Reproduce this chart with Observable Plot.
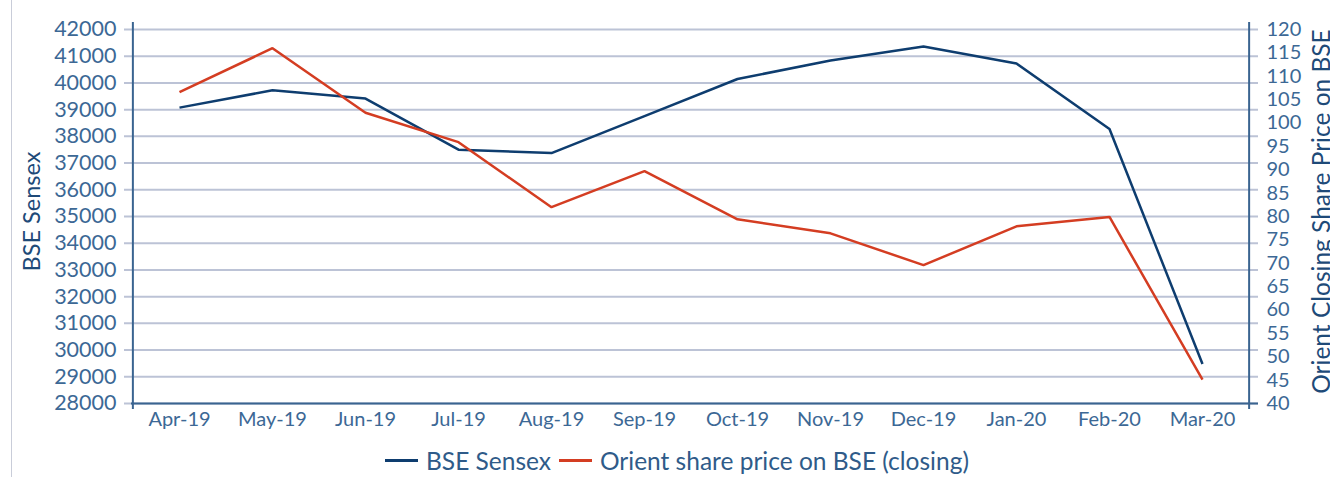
<!DOCTYPE html>
<html><head><meta charset="utf-8">
<script src="https://cdn.jsdelivr.net/npm/d3@7"></script>
<script src="https://cdn.jsdelivr.net/npm/@observablehq/plot@0.6"></script>
<style>
html,body{margin:0;padding:0;background:#fff;}
body{width:1330px;height:477px;position:relative;overflow:hidden;font-family:Lato,sans-serif;}
#border{position:absolute;left:11px;top:0;width:1px;height:477px;background:#c9cdd9;}
#chart{position:absolute;left:0;top:0;}
#legend{position:absolute;left:385px;top:446px;height:28px;display:flex;align-items:center;font-size:24.5px;color:#2f5b89;white-space:nowrap;}
#legend .item{display:flex;align-items:center;margin-right:8px;}
#legend .sw{display:inline-block;width:33px;height:3px;margin-right:8px;}
</style></head><body>
<div id="border"></div>
<div id="chart"></div>
<div id="legend"></div>
<script>
const months = ["Apr-19","May-19","Jun-19","Jul-19","Aug-19","Sep-19","Oct-19","Nov-19","Dec-19","Jan-20","Feb-20","Mar-20"];
const sensex = [39075, 39724, 39413, 37500, 37373, 38760, 40148, 40840, 41360, 40725, 38273, 29476];
const orient = [106.6, 116.0, 102.2, 95.9, 82.0, 89.7, 79.4, 76.4, 69.6, 77.9, 79.9, 45.1];
const leftTicks = d3.range(28000, 42001, 1000);
const rightTicks = d3.range(40, 121, 5);
const seriesNames = ["BSE Sensex", "Orient share price on BSE (closing)"];
const axisTitles = ["BSE Sensex", "Orient Closing Share Price on BSE"];
const seriesColors = ["#0e3d6f", "#d43d22"];

const tickColor = "#3c6895", titleColor = "#1e4a78", axisColor = "#3a6490", gridColor = "#bcc3d6";
const W = 1330, H = 440, mL = 131, mR = 80, mT = 29, mB = 37;
const step = (W - mL - mR) / months.length;
const toLeft = d3.scaleLinear([40, 120], [28000, 42000]);
const rows = months.map((m, i) => ({month: m, sensex: sensex[i], orient: orient[i]}));

const chart = Plot.plot({
  width: W, height: H,
  marginLeft: mL, marginRight: mR, marginTop: mT, marginBottom: mB,
  x: {type: "point", domain: months, padding: 0.5},
  y: {domain: [28000, 42000]},
  style: {fontFamily: "Lato, sans-serif", fontSize: "20px", color: tickColor, background: "transparent"},
  marks: [
    Plot.ruleY(leftTicks, {stroke: gridColor, strokeWidth: 2, insetLeft: -7, insetRight: -8}),
    Plot.ruleY([28000], {stroke: axisColor, strokeWidth: 2, insetRight: -8}),
    Plot.ruleX([months[0]], {x: d => d, dx: -step / 2, y1: d => 27775, y2: d => 42260, stroke: axisColor, strokeWidth: 2}),
    Plot.ruleX([months[months.length - 1]], {x: d => d, dx: step / 2, y1: d => 27775, y2: d => 42260, stroke: axisColor, strokeWidth: 2}),
    Plot.axisX({tickSize: 0, tickPadding: 8, label: null}),
    Plot.axisY({ticks: leftTicks, anchor: "left", tickSize: 0, tickPadding: 15, label: null, fontSize: 21.5, tickFormat: d => String(d)}),
    Plot.axisY(rightTicks, {anchor: "right", y: d => toLeft(d), tickSize: 0, tickPadding: 16, label: null, tickFormat: d => String(d)}),
    Plot.text([axisTitles[0]], {frameAnchor: "left", dx: -99, dy: -5, rotate: -90, textAnchor: "middle", fontSize: 23.5, fill: titleColor}),
    Plot.text([axisTitles[1]], {frameAnchor: "right", dx: 72, dy: -5, rotate: -90, textAnchor: "middle", fontSize: 24.5, fill: titleColor}),
    Plot.line(rows, {x: "month", y: "sensex", stroke: seriesColors[0], strokeWidth: 2.5, strokeLinejoin: "miter", strokeLinecap: "butt"}),
    Plot.line(rows, {x: "month", y: d => toLeft(d.orient), stroke: seriesColors[1], strokeWidth: 2.5, strokeLinejoin: "miter", strokeLinecap: "butt"})
  ]
});
document.getElementById("chart").appendChild(chart);

const legend = document.getElementById("legend");
seriesNames.forEach((name, i) => {
  const item = document.createElement("span");
  item.className = "item";
  const sw = document.createElement("span");
  sw.className = "sw";
  sw.style.background = seriesColors[i];
  item.appendChild(sw);
  item.appendChild(document.createTextNode(name));
  legend.appendChild(item);
});
</script>
</body></html>
